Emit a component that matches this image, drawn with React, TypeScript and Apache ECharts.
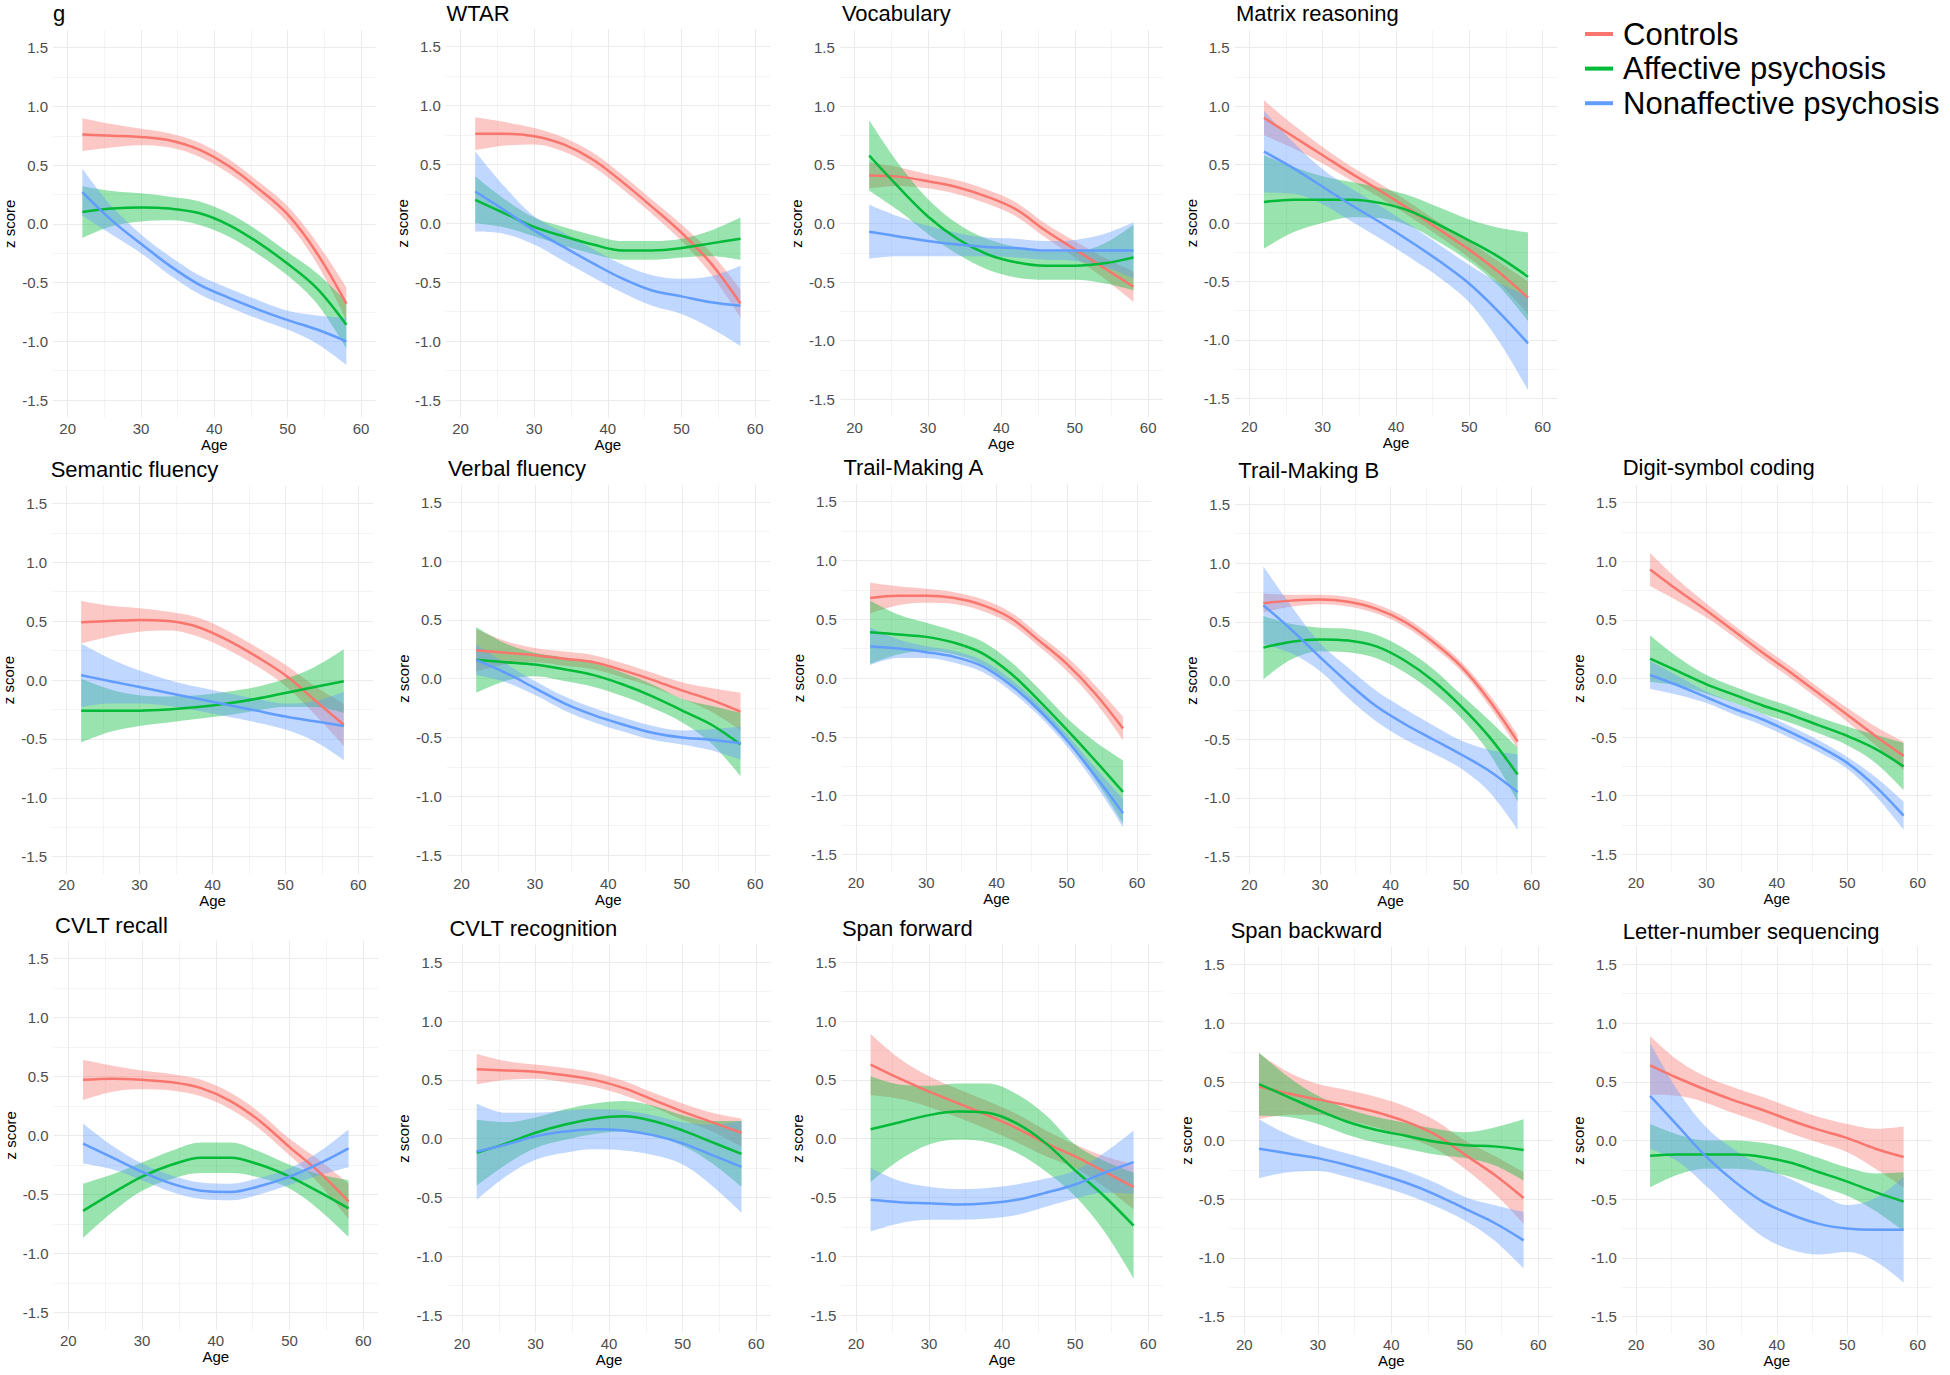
import React, { useEffect, useRef } from "react";
import * as echarts from "echarts";

// ---------- data ----------
const AGES = [22, 26, 30, 34, 38, 42, 46, 50, 54, 58];
const GROUPS = ["Controls", "Affective psychosis", "Nonaffective psychosis"];
const COLORS = ["#F8766D", "#00BA38", "#619CFF"];
const X_TICKS = [20, 30, 40, 50, 60];
const X_MINOR = [25, 35, 45, 55];
const Y_TICKS = [-1.5, -1, -0.5, 0, 0.5, 1, 1.5];
const Y_MINOR = [-1.25, -0.75, -0.25, 0.25, 0.75, 1.25];

const TITLES = [
  "g", "WTAR", "Vocabulary", "Matrix reasoning",
  "Semantic fluency", "Verbal fluency", "Trail-Making A", "Trail-Making B", "Digit-symbol coding",
  "CVLT recall", "CVLT recognition", "Span forward", "Span backward", "Letter-number sequencing",
];

// fitted z score per group (Controls, Affective, Nonaffective) at AGES
const G_FIT = [
  [0.76, 0.75, 0.74, 0.71, 0.63, 0.49, 0.30, 0.08, -0.25, -0.68],
  [0.10, 0.13, 0.14, 0.13, 0.09, -0.01, -0.16, -0.34, -0.55, -0.86],
  [0.27, 0.03, -0.17, -0.36, -0.52, -0.63, -0.73, -0.82, -0.90, -1.00],
];
const G_CI = [
  [0.14, 0.10, 0.07, 0.06, 0.06, 0.06, 0.06, 0.07, 0.09, 0.14],
  [0.22, 0.15, 0.12, 0.10, 0.10, 0.10, 0.10, 0.10, 0.13, 0.20],
  [0.20, 0.12, 0.08, 0.08, 0.08, 0.08, 0.08, 0.08, 0.12, 0.20],
];
const WTAR_FIT = [
  [0.76, 0.76, 0.74, 0.67, 0.54, 0.35, 0.14, -0.08, -0.34, -0.68],
  [0.20, 0.085, -0.03, -0.11, -0.18, -0.23, -0.23, -0.21, -0.17, -0.13],
  [0.27, 0.11, -0.06, -0.20, -0.34, -0.47, -0.57, -0.62, -0.67, -0.70],
];
const WTAR_CI = [
  [0.14, 0.10, 0.07, 0.06, 0.06, 0.06, 0.06, 0.07, 0.09, 0.12],
  [0.20, 0.12, 0.08, 0.08, 0.08, 0.08, 0.08, 0.08, 0.11, 0.18],
  [0.34, 0.20, 0.12, 0.12, 0.12, 0.12, 0.13, 0.15, 0.22, 0.34],
];
const VOC_FIT = [
  [0.41, 0.40, 0.36, 0.31, 0.23, 0.12, -0.06, -0.22, -0.38, -0.54],
  [0.58, 0.31, 0.06, -0.13, -0.26, -0.33, -0.36, -0.36, -0.34, -0.29],
  [-0.07, -0.11, -0.15, -0.18, -0.20, -0.21, -0.23, -0.23, -0.23, -0.23],
];
const VOC_CI = [
  [0.11, 0.08, 0.06, 0.06, 0.06, 0.06, 0.06, 0.07, 0.09, 0.13],
  [0.30, 0.20, 0.15, 0.13, 0.13, 0.13, 0.12, 0.12, 0.17, 0.28],
  [0.23, 0.17, 0.13, 0.10, 0.08, 0.08, 0.08, 0.09, 0.14, 0.24],
];
const MAT_FIT = [
  [0.90, 0.74, 0.58, 0.42, 0.27, 0.11, -0.06, -0.23, -0.42, -0.64],
  [0.18, 0.20, 0.20, 0.20, 0.17, 0.10, -0.02, -0.15, -0.29, -0.46],
  [0.61, 0.47, 0.31, 0.15, 0.00, -0.16, -0.33, -0.52, -0.76, -1.03],
];
const MAT_CI = [
  [0.15, 0.10, 0.07, 0.06, 0.06, 0.06, 0.06, 0.07, 0.09, 0.14],
  [0.40, 0.28, 0.20, 0.15, 0.13, 0.13, 0.15, 0.18, 0.25, 0.38],
  [0.35, 0.22, 0.15, 0.14, 0.14, 0.14, 0.14, 0.16, 0.25, 0.40],
];
const SEM_FIT = [
  [0.49, 0.50, 0.51, 0.50, 0.45, 0.34, 0.20, 0.04, -0.17, -0.38],
  [-0.26, -0.26, -0.26, -0.25, -0.23, -0.20, -0.16, -0.11, -0.06, -0.01],
  [0.04, -0.01, -0.06, -0.11, -0.16, -0.21, -0.26, -0.31, -0.35, -0.39],
];
const SEM_CI = [
  [0.18, 0.13, 0.10, 0.08, 0.08, 0.08, 0.08, 0.09, 0.12, 0.18],
  [0.27, 0.18, 0.13, 0.11, 0.10, 0.10, 0.10, 0.12, 0.17, 0.27],
  [0.27, 0.19, 0.14, 0.11, 0.10, 0.10, 0.10, 0.11, 0.17, 0.29],
];
const VERB_FIT = [
  [0.24, 0.22, 0.20, 0.17, 0.14, 0.07, -0.01, -0.10, -0.18, -0.28],
  [0.16, 0.14, 0.12, 0.08, 0.03, -0.05, -0.15, -0.27, -0.39, -0.56],
  [0.16, 0.05, -0.08, -0.21, -0.31, -0.39, -0.46, -0.50, -0.52, -0.55],
];
const VERB_CI = [
  [0.18, 0.10, 0.06, 0.06, 0.06, 0.06, 0.06, 0.07, 0.10, 0.16],
  [0.28, 0.16, 0.10, 0.10, 0.10, 0.10, 0.10, 0.10, 0.16, 0.27],
  [0.13, 0.08, 0.06, 0.06, 0.06, 0.06, 0.06, 0.06, 0.09, 0.14],
];
const TMA_FIT = [
  [0.68, 0.70, 0.70, 0.68, 0.62, 0.51, 0.32, 0.12, -0.13, -0.43],
  [0.39, 0.37, 0.35, 0.30, 0.21, 0.04, -0.19, -0.44, -0.70, -0.97],
  [0.27, 0.25, 0.22, 0.18, 0.10, -0.06, -0.27, -0.53, -0.83, -1.15],
];
const TMA_CI = [
  [0.13, 0.08, 0.06, 0.05, 0.05, 0.05, 0.05, 0.06, 0.07, 0.10],
  [0.27, 0.17, 0.12, 0.10, 0.10, 0.10, 0.10, 0.10, 0.16, 0.27],
  [0.16, 0.08, 0.05, 0.05, 0.05, 0.05, 0.05, 0.05, 0.07, 0.12],
];
const TMB_FIT = [
  [0.66, 0.68, 0.69, 0.67, 0.61, 0.50, 0.33, 0.12, -0.17, -0.52],
  [0.28, 0.33, 0.35, 0.34, 0.29, 0.17, 0.00, -0.22, -0.48, -0.80],
  [0.64, 0.43, 0.20, -0.02, -0.22, -0.37, -0.50, -0.63, -0.77, -0.95],
];
const TMB_CI = [
  [0.08, 0.05, 0.04, 0.04, 0.04, 0.04, 0.04, 0.04, 0.05, 0.06],
  [0.27, 0.15, 0.10, 0.10, 0.10, 0.10, 0.10, 0.10, 0.14, 0.23],
  [0.33, 0.20, 0.12, 0.13, 0.13, 0.13, 0.12, 0.12, 0.18, 0.32],
];
const DSC_FIT = [
  [0.93, 0.75, 0.58, 0.40, 0.22, 0.05, -0.13, -0.31, -0.49, -0.66],
  [0.17, 0.06, -0.05, -0.14, -0.23, -0.31, -0.40, -0.49, -0.60, -0.75],
  [0.03, -0.06, -0.16, -0.26, -0.35, -0.46, -0.58, -0.72, -0.92, -1.17],
];
const DSC_CI = [
  [0.14, 0.09, 0.06, 0.05, 0.05, 0.05, 0.05, 0.06, 0.08, 0.12],
  [0.20, 0.12, 0.08, 0.07, 0.07, 0.07, 0.07, 0.08, 0.12, 0.20],
  [0.12, 0.08, 0.05, 0.05, 0.05, 0.05, 0.05, 0.05, 0.08, 0.12],
];
const CVR_FIT = [
  [0.47, 0.48, 0.47, 0.45, 0.40, 0.29, 0.12, -0.10, -0.31, -0.56],
  [-0.64, -0.49, -0.35, -0.25, -0.19, -0.19, -0.25, -0.35, -0.48, -0.62],
  [-0.07, -0.19, -0.31, -0.41, -0.47, -0.48, -0.43, -0.35, -0.24, -0.11],
];
const CVR_CI = [
  [0.17, 0.11, 0.08, 0.07, 0.07, 0.07, 0.07, 0.07, 0.10, 0.15],
  [0.23, 0.16, 0.12, 0.12, 0.13, 0.13, 0.11, 0.10, 0.15, 0.24],
  [0.17, 0.10, 0.07, 0.07, 0.07, 0.07, 0.07, 0.07, 0.10, 0.16],
];
const CVG_FIT = [
  [0.59, 0.58, 0.57, 0.54, 0.50, 0.43, 0.33, 0.23, 0.14, 0.05],
  [-0.12, -0.04, 0.05, 0.12, 0.17, 0.19, 0.15, 0.07, -0.03, -0.13],
  [-0.11, -0.05, 0.02, 0.06, 0.08, 0.07, 0.03, -0.04, -0.14, -0.24],
];
const CVG_CI = [
  [0.13, 0.08, 0.06, 0.06, 0.06, 0.06, 0.06, 0.07, 0.08, 0.12],
  [0.28, 0.18, 0.13, 0.13, 0.13, 0.13, 0.13, 0.13, 0.18, 0.28],
  [0.41, 0.27, 0.20, 0.18, 0.17, 0.17, 0.17, 0.18, 0.26, 0.39],
];
const SPF_FIT = [
  [0.63, 0.51, 0.40, 0.30, 0.20, 0.09, -0.04, -0.15, -0.28, -0.41],
  [0.08, 0.14, 0.20, 0.23, 0.22, 0.13, -0.04, -0.27, -0.49, -0.74],
  [-0.52, -0.54, -0.55, -0.56, -0.55, -0.52, -0.46, -0.39, -0.29, -0.20],
];
const SPF_CI = [
  [0.26, 0.17, 0.13, 0.12, 0.12, 0.12, 0.11, 0.10, 0.13, 0.19],
  [0.45, 0.32, 0.25, 0.24, 0.25, 0.25, 0.24, 0.22, 0.30, 0.45],
  [0.27, 0.18, 0.14, 0.13, 0.13, 0.13, 0.12, 0.12, 0.17, 0.27],
];
const SPB_FIT = [
  [0.46, 0.40, 0.35, 0.30, 0.24, 0.16, 0.05, -0.12, -0.29, -0.49],
  [0.48, 0.37, 0.26, 0.16, 0.09, 0.04, -0.01, -0.04, -0.05, -0.08],
  [-0.07, -0.11, -0.15, -0.21, -0.28, -0.36, -0.46, -0.58, -0.70, -0.85],
];
const SPB_CI = [
  [0.28, 0.18, 0.13, 0.13, 0.13, 0.13, 0.12, 0.12, 0.16, 0.22],
  [0.27, 0.17, 0.12, 0.11, 0.11, 0.11, 0.11, 0.11, 0.16, 0.26],
  [0.25, 0.16, 0.11, 0.10, 0.10, 0.10, 0.10, 0.10, 0.15, 0.24],
];
const LNS_FIT = [
  [0.64, 0.53, 0.43, 0.34, 0.26, 0.17, 0.09, 0.02, -0.07, -0.14],
  [-0.13, -0.12, -0.12, -0.12, -0.14, -0.19, -0.27, -0.35, -0.44, -0.52],
  [0.38, 0.12, -0.14, -0.35, -0.52, -0.63, -0.71, -0.75, -0.76, -0.76],
];
const LNS_CI = [
  [0.25, 0.15, 0.11, 0.11, 0.11, 0.11, 0.11, 0.12, 0.17, 0.26],
  [0.27, 0.17, 0.12, 0.12, 0.12, 0.12, 0.12, 0.12, 0.16, 0.25],
  [0.45, 0.30, 0.25, 0.27, 0.30, 0.30, 0.26, 0.20, 0.27, 0.45],
];

const PANEL_FITS = [G_FIT, WTAR_FIT, VOC_FIT, MAT_FIT, SEM_FIT, VERB_FIT, TMA_FIT, TMB_FIT, DSC_FIT, CVR_FIT, CVG_FIT, SPF_FIT, SPB_FIT, LNS_FIT];
const PANEL_CIS = [G_CI, WTAR_CI, VOC_CI, MAT_CI, SEM_CI, VERB_CI, TMA_CI, TMB_CI, DSC_CI, CVR_CI, CVG_CI, SPF_CI, SPB_CI, LNS_CI];

// ---------- layout (pixels): x of age 20, x of age 60, y of 1.5, y of -1.5, title left, title cap top ----------
const LAYOUT = [
  [67.7, 361, 47.7, 400, 53, 6],
  [460.5, 755.2, 46.7, 400, 446.4, 6],
  [854.5, 1148.2, 47.7, 399.3, 841.9, 6],
  [1249.3, 1542.7, 47.7, 398.3, 1236, 6],
  [65, 358.3, 503.3, 856.7, 50.7, 461.7],
  [461.5, 755.2, 502.3, 855, 447.9, 460.7],
  [856, 1137.1, 501.7, 854.3, 843.4, 460],
  [1249.3, 1531.7, 504.3, 856.7, 1238.3, 462.7],
  [1636, 1917.7, 502.7, 854.3, 1622.7, 460],
  [68.3, 363.3, 958.3, 1312.3, 55, 918.3],
  [462, 756.2, 962.3, 1315, 449.4, 920.7],
  [856, 1148.2, 962.3, 1315, 841.9, 920.7],
  [1244.3, 1538.3, 964.3, 1316.7, 1230.7, 922.7],
  [1636, 1917.7, 964.3, 1316.7, 1622.7, 924],
];

const FONT = "'Liberation Sans', Arial, Helvetica, sans-serif";
const SMOOTH = 0.35;

function buildOption() {
  const grid: any[] = [];
  const xAxis: any[] = [];
  const yAxis: any[] = [];
  const series: any[] = [];
  const title: any[] = [];

  LAYOUT.forEach((L, i) => {
    const [x20, x60, y15, ym15, tx, tcap] = L;
    const pxYr = (x60 - x20) / 40;
    const pxU = (ym15 - y15) / 3;
    grid.push({
      left: x20 - 2 * pxYr,
      top: y15 - 0.15 * pxU,
      width: 44 * pxYr,
      height: 3.3 * pxU,
      containLabel: false,
    });
    title.push({
      text: TITLES[i],
      left: tx,
      top: tcap - 3.5,
      padding: 0,
      textStyle: { fontSize: 22, fontWeight: "normal", color: "#000", fontFamily: FONT },
    });
    xAxis.push({
      gridIndex: i,
      type: "value",
      min: 18,
      max: 62,
      axisLine: { show: false },
      axisTick: { show: false, customValues: X_TICKS },
      splitLine: { show: false },
      axisLabel: { customValues: X_TICKS, color: "#4D4D4D", fontSize: 15, margin: 3, fontFamily: FONT },
      name: "Age",
      nameLocation: "middle",
      nameGap: 18,
      nameTextStyle: { color: "#000", fontSize: 15, fontFamily: FONT },
    });
    yAxis.push({
      gridIndex: i,
      type: "value",
      min: -1.65,
      max: 1.65,
      axisLine: { show: false },
      axisTick: { show: false, customValues: Y_TICKS },
      splitLine: { show: false },
      axisLabel: {
        customValues: Y_TICKS,
        formatter: (v: number) => v.toFixed(1),
        color: "#4D4D4D",
        fontSize: 15,
        margin: 5,
        fontFamily: FONT,
      },
      name: "z score",
      nameLocation: "middle",
      nameRotate: 90,
      nameGap: 36,
      nameTextStyle: { color: "#000", fontSize: 15, fontFamily: FONT },
    });

    // panel grid lines (drawn beneath everything)
    const major = { color: "#EBEBEB", width: 1, type: "solid" };
    const minor = { color: "#F4F4F4", width: 1, type: "solid" };
    series.push({
      type: "line",
      xAxisIndex: i,
      yAxisIndex: i,
      data: [],
      silent: true,
      z: 0,
      markLine: {
        silent: true,
        z: 0,
        symbol: ["none", "none"],
        label: { show: false },
        animation: false,
        data: [
          ...X_MINOR.map((v) => ({ xAxis: v, lineStyle: minor })),
          ...Y_MINOR.map((v) => ({ yAxis: v, lineStyle: minor })),
          ...X_TICKS.map((v) => ({ xAxis: v, lineStyle: major })),
          ...Y_TICKS.map((v) => ({ yAxis: v, lineStyle: major })),
        ],
      },
    });

    const fits = PANEL_FITS[i];
    const cis = PANEL_CIS[i];
    GROUPS.forEach((name, k) => {
      const fit = fits[k];
      const ci = cis[k];
      const stack = `band_${i}_${k}`;
      // band: value first so that stacking happens on the z-score dimension
      series.push({
        type: "line",
        xAxisIndex: i,
        yAxisIndex: i,
        stack,
        stackStrategy: "all",
        smooth: SMOOTH,
        showSymbol: false,
        silent: true,
        encode: { x: 1, y: 0 },
        lineStyle: { opacity: 0, width: 0 },
        data: AGES.map((a, j) => [fit[j] - ci[j], a]),
      });
      series.push({
        type: "line",
        xAxisIndex: i,
        yAxisIndex: i,
        stack,
        stackStrategy: "all",
        smooth: SMOOTH,
        showSymbol: false,
        silent: true,
        encode: { x: 1, y: 0 },
        lineStyle: { opacity: 0, width: 0 },
        areaStyle: { color: COLORS[k], opacity: 0.4 },
        data: AGES.map((a, j) => [2 * ci[j], a]),
      });
      series.push({
        name,
        type: "line",
        xAxisIndex: i,
        yAxisIndex: i,
        smooth: SMOOTH,
        showSymbol: false,
        silent: true,
        itemStyle: { color: COLORS[k] },
        lineStyle: { color: COLORS[k], width: 2.5 },
        data: AGES.map((a, j) => [a, fit[j]]),
      });
    });
  });

  return {
    animation: false,
    backgroundColor: "#ffffff",
    title,
    grid,
    xAxis,
    yAxis,
    series,
    legend: {
      orient: "vertical",
      left: 1585,
      top: 18.5,
      padding: 0,
      itemWidth: 28,
      itemHeight: 4,
      itemGap: 3.6,
      icon: "rect",
      selectedMode: false,
      lineStyle: { width: 4 },
      textStyle: { fontSize: 31, color: "#000", fontFamily: FONT, padding: [0, 0, 0, 5] },
      data: GROUPS.map((n, k) => ({ name: n, itemStyle: { color: COLORS[k] } })),
    },
  };
}

export default function App() {
  const ref = useRef<HTMLDivElement>(null);
  useEffect(() => {
    if (!ref.current) return;
    const chart = echarts.init(ref.current, undefined, { renderer: "svg" });
    chart.setOption(buildOption() as any);
    return () => chart.dispose();
  }, []);
  return (
    <div
      ref={ref}
      style={{ position: "fixed", left: 0, top: 0, width: 1950, height: 1375, background: "#fff" }}
    />
  );
}
